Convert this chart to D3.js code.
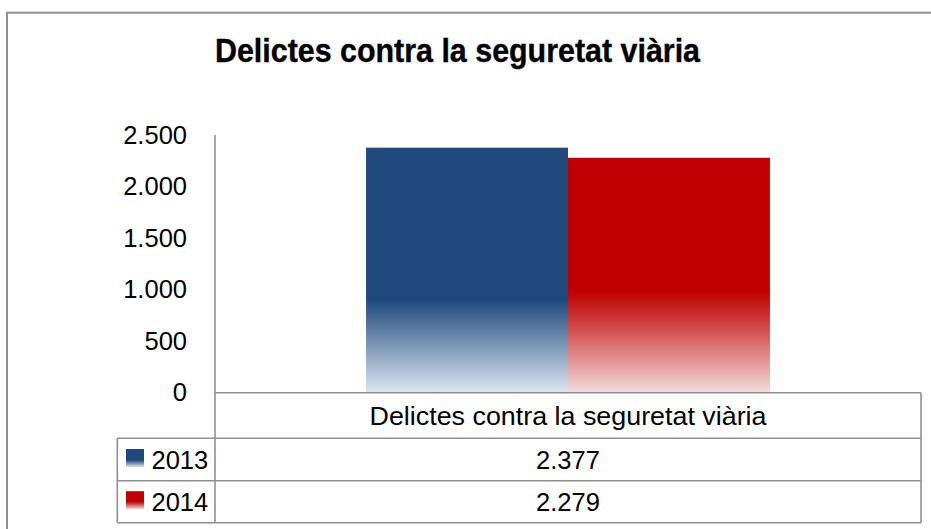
<!DOCTYPE html>
<html>
<head>
<meta charset="utf-8">
<script src="https://cdn.jsdelivr.net/npm/d3@7"></script>
<style>
  body { margin: 0; background: #fff; }
  svg { display: block; font-family: "Liberation Sans", Arial, sans-serif; }
</style>
</head>
<body>
<div id="chart"></div>
<script>
// data
const title = "Delictes contra la seguretat viària";
const category = "Delictes contra la seguretat viària";
const years = ["2013", "2014"];
const values = [2377, 2279];
const yTicks = [0, 500, 1000, 1500, 2000, 2500];
const barColors = ["#1F497D", "#C00000"];
const fadeColors = ["#DCE6F2", "#F2DCDB"];

const width = 931, height = 529;

// catalan style numbers: 2.500
const locale = d3.formatLocale({decimal: ",", thousands: ".", grouping: [3], currency: ["", "€"]});
const fmt = locale.format(",d");

const svg = d3.select("#chart").append("svg")
  .attr("width", width)
  .attr("height", height);

// gradients for bars and legend keys
const defs = svg.append("defs");
years.forEach((yr, i) => {
  const g = defs.append("linearGradient")
    .attr("id", "grad" + i)
    .attr("x1", 0).attr("y1", 0).attr("x2", 0).attr("y2", 1);
  const solidEnd = i == 0 ? 0.62 : 0.57;
  g.append("stop").attr("offset", 0).attr("stop-color", barColors[i]);
  g.append("stop").attr("offset", solidEnd).attr("stop-color", barColors[i]);
  if (i == 1) {
    g.append("stop").attr("offset", 0.66).attr("stop-color", "#C82A2A");
  }
  g.append("stop").attr("offset", 1).attr("stop-color", fadeColors[i]);
});

// outer frame
svg.append("rect")
  .attr("x", 7).attr("y", 12.7)
  .attr("width", 960).attr("height", 560)
  .attr("fill", "none")
  .attr("stroke", "#8f8f8f")
  .attr("stroke-width", 2);

// title
svg.append("text")
  .attr("x", 457.5).attr("y", 62.3)
  .attr("text-anchor", "middle")
  .attr("font-weight", "bold")
  .attr("font-size", 33.5)
  .attr("stroke", "#000")
  .attr("stroke-width", 0.4)
  .attr("textLength", 485)
  .attr("lengthAdjust", "spacingAndGlyphs")
  .text(title);

// scales
const plotLeft = 215, plotRight = 921;
const y = d3.scaleLinear().domain([0, 2500]).range([392.7, 135]);
const x0 = d3.scaleBand().domain([category]).range([plotLeft, plotRight])
  .paddingInner(0).paddingOuter(0.374);
const x1 = d3.scaleBand().domain(years).range([0, x0.bandwidth()]).padding(0);

// y axis labels (no tick marks)
const yAxis = d3.axisLeft(y).tickValues(yTicks).tickFormat(fmt).tickSize(0).tickPadding(28);
const ay = svg.append("g").attr("transform", `translate(${plotLeft},0)`).call(yAxis);
ay.select(".domain").remove();
ay.selectAll("text")
  .attr("font-family", "'Liberation Sans', Arial, sans-serif")
  .attr("font-size", 25.5)
  .attr("fill", "#000");

// bars
svg.append("g")
  .selectAll("rect")
  .data(values)
  .join("rect")
  .attr("x", (d, i) => x0(category) + x1(years[i]))
  .attr("y", d => y(d))
  .attr("width", x1.bandwidth())
  .attr("height", d => y(0) - y(d))
  .attr("fill", (d, i) => `url(#grad${i})`);

// data table under the plot
const headerTop = y(0), row1 = 438.3, row2 = 480.7, tableBottom = 522.7, tableLeft = 117.3;
const lineColor = "#8f8f8f";
const tbl = svg.append("g").attr("stroke", lineColor).attr("stroke-width", 1.6).attr("fill", "none");
tbl.append("line").attr("x1", plotLeft).attr("x2", plotRight).attr("y1", headerTop).attr("y2", headerTop);
[row1, row2, tableBottom].forEach(ry => {
  tbl.append("line").attr("x1", tableLeft).attr("x2", plotRight).attr("y1", ry).attr("y2", ry);
});
tbl.append("line").attr("x1", plotLeft).attr("x2", plotLeft).attr("y1", y(2500)).attr("y2", tableBottom);
tbl.append("line").attr("x1", plotRight).attr("x2", plotRight).attr("y1", headerTop).attr("y2", tableBottom);
tbl.append("line").attr("x1", tableLeft).attr("x2", tableLeft).attr("y1", row1).attr("y2", tableBottom);

const cx = x0(category) + x0.bandwidth() / 2;

svg.append("text")
  .attr("x", cx).attr("y", 424.5)
  .attr("text-anchor", "middle")
  .attr("font-size", 25.5)
  .attr("textLength", 397)
  .attr("lengthAdjust", "spacingAndGlyphs")
  .text(category);

const rowTops = [row1, row2];
const rowBottoms = [row2, tableBottom];
years.forEach((yr, i) => {
  const mid = (rowTops[i] + rowBottoms[i]) / 2;
  // legend key
  svg.append("rect")
    .attr("x", 126).attr("y", mid - 10.5)
    .attr("width", 18).attr("height", 18)
    .attr("fill", `url(#grad${i})`);
  svg.append("text")
    .attr("x", 151.5).attr("y", mid + 9.5)
    .attr("font-size", 25.5)
    .text(yr);
  svg.append("text")
    .attr("x", cx).attr("y", mid + 9.5)
    .attr("text-anchor", "middle")
    .attr("font-size", 25.5)
    .text(fmt(values[i]));
});
</script>
</body>
</html>
